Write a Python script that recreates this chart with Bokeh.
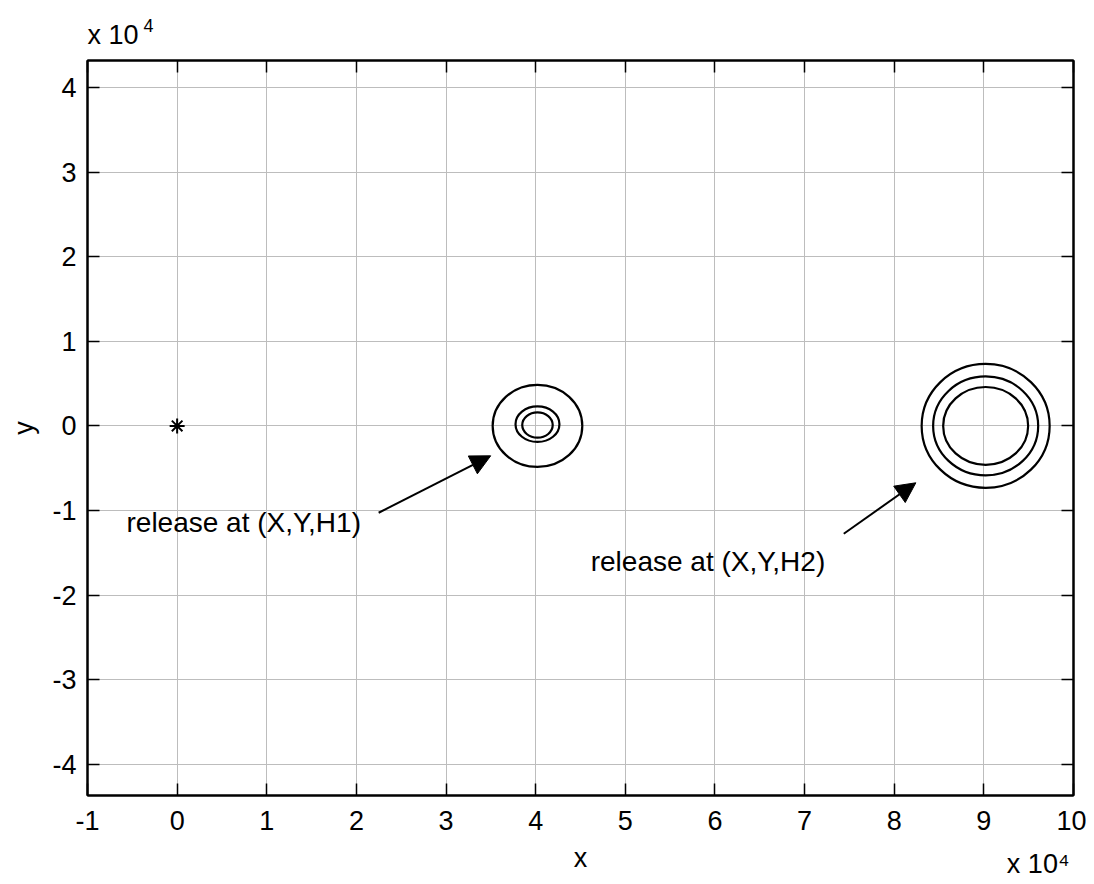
from bokeh.plotting import figure
from bokeh.models import Range1d, LinearAxis, FixedTicker, Label, Arrow, NormalHead, ColumnDataSource, Title
from bokeh.embed import file_html
from bokeh.resources import INLINE

# ---- data (units of 10^4) ----
x_ticks = [-1, 0, 1, 2, 3, 4, 5, 6, 7, 8, 9, 10]
y_ticks = [-4, -3, -2, -1, 0, 1, 2, 3, 4]

# contour rings: center x, center y, radius x, radius y
ring_cx = [4.02, 4.02, 4.02, 9.02, 9.02, 9.02]
ring_cy = [0.0, 0.02, 0.01, 0.0, 0.0, 0.0]
ring_rx = [0.50, 0.245, 0.17, 0.714, 0.586, 0.474]
ring_ry = [0.485, 0.21, 0.15, 0.732, 0.585, 0.46]

# source point
src_x = [0.0]
src_y = [0.0]

# annotations
ann_text = ["release at (X,Y,H1)", "release at (X,Y,H2)"]
ann_x = [-0.565, 4.614]
ann_y = [-1.145, -1.606]
arrow_x_start = [2.248, 7.437]
arrow_y_start = [-1.027, -1.275]
arrow_x_end = [3.498, 8.241]
arrow_y_end = [-0.354, -0.673]

FONT = "Liberation Sans"
FS = "27px"

p = figure(output_backend="svg", toolbar_location=None, title_location=None,
           x_range=Range1d(-1, 10), y_range=Range1d(-4.37, 4.32),
           frame_width=986, frame_height=735,
           min_border_left=87, min_border_top=60, min_border_right=13, min_border_bottom=88)
p.background_fill_color = "white"
p.border_fill_color = "white"
p.outline_line_color = "black"
p.outline_line_width = 2

for ax, tk in ((p.xaxis[0], x_ticks), (p.yaxis[0], y_ticks)):
    ax.ticker = FixedTicker(ticks=tk)
    ax.major_label_overrides = {t: str(t) for t in tk}
    ax.major_tick_in = 12
    ax.major_tick_out = 0
    ax.minor_tick_line_color = None
    ax.major_tick_line_color = "black"
    ax.major_tick_line_width = 1.5
    ax.axis_line_color = "black"
    ax.axis_line_width = 2
    ax.major_label_text_font = FONT
    ax.major_label_text_font_size = FS
    ax.major_label_text_color = "black"
    ax.axis_label_text_font = FONT
    ax.axis_label_text_font_size = FS
    ax.axis_label_text_color = "black"
    ax.axis_label_text_font_style = "normal"

p.xaxis[0].axis_label = "x"
p.yaxis[0].axis_label = "y"
p.xaxis[0].major_label_standoff = 15
p.xaxis[0].axis_label_standoff = 10
p.yaxis[0].major_label_standoff = 11
p.yaxis[0].axis_label_standoff = 10

top = LinearAxis(ticker=FixedTicker(ticks=x_ticks), major_label_text_font_size="0px",
                 major_label_standoff=0, axis_label_standoff=0,
                 major_tick_in=12, major_tick_out=0, minor_tick_line_color=None,
                 major_tick_line_width=1.5, axis_line_width=2)
right = LinearAxis(ticker=FixedTicker(ticks=y_ticks), major_label_text_font_size="0px",
                   major_label_standoff=0, axis_label_standoff=0,
                   major_tick_in=12, major_tick_out=0, minor_tick_line_color=None,
                   major_tick_line_width=1.5, axis_line_width=2)
p.add_layout(top, "above")
p.add_layout(right, "right")

# exponent label under the x axis (right side)
tb = Title(text="x 10\u2074", align="right", offset=4, vertical_align="top", standoff=-54,
           text_font=FONT, text_font_size=FS, text_font_style="normal", text_color="black")
p.add_layout(tb, "below")

# exponent label above the y axis (top-left)
t1 = Title(text="x 10", align="left", offset=0, standoff=22, text_font=FONT,
           text_font_size=FS, text_font_style="normal", text_color="black")
t2 = Title(text="4", align="left", offset=56, standoff=-50, text_font=FONT,
           text_font_size="18px", text_font_style="normal", text_color="black")
p.add_layout(t1, "above")
p.add_layout(t2, "above")

p.xgrid.ticker = FixedTicker(ticks=x_ticks)
p.ygrid.ticker = FixedTicker(ticks=y_ticks)
p.grid.grid_line_color = "#bdbdbd"
p.grid.grid_line_width = 1

rings = ColumnDataSource(dict(x=ring_cx, y=ring_cy,
                              w=[2 * r for r in ring_rx], h=[2 * r for r in ring_ry]))
p.ellipse(x="x", y="y", width="w", height="h", source=rings,
          fill_color=None, line_color="black", line_width=2.2)

p.scatter(src_x, src_y, marker="asterisk", size=15, line_color="black", line_width=2)

for t, x, y in zip(ann_text, ann_x, ann_y):
    p.add_layout(Label(x=x, y=y, text=t, text_font=FONT, text_font_size="28px",
                       text_color="black", text_baseline="alphabetic"))

for xs, ys, xe, ye in zip(arrow_x_start, arrow_y_start, arrow_x_end, arrow_y_end):
    p.add_layout(Arrow(x_start=xs, y_start=ys, x_end=xe, y_end=ye, line_width=2, line_color="black",
                       end=NormalHead(size=20, fill_color="black", line_color="black", line_width=1)))

open("out.html", "w").write(file_html(p, INLINE))
